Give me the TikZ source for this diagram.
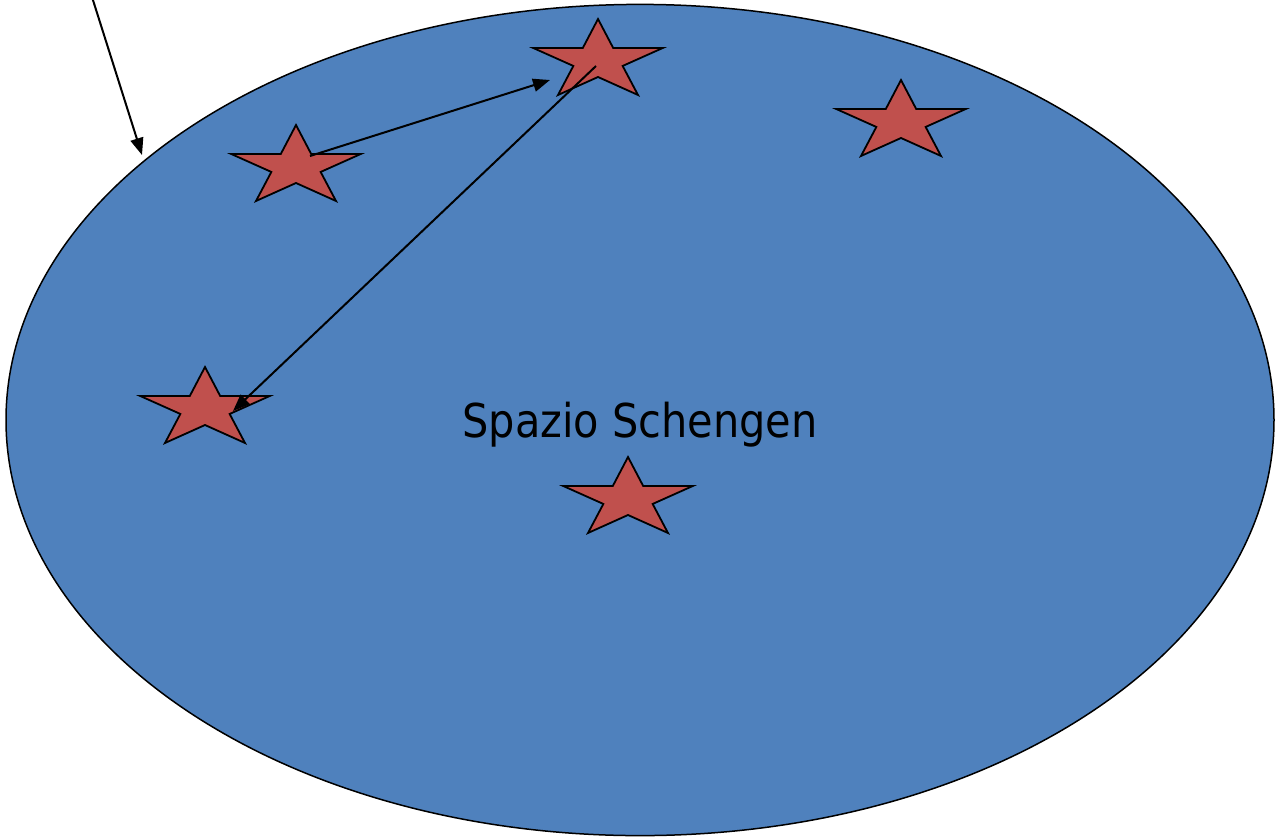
\documentclass[tikz,border=0pt]{standalone}
\usepackage{fontspec}
\newfontfamily\labelfont{DejaVu Sans}
\usetikzlibrary{arrows.meta,calc}
\definecolor{areablue}{HTML}{4F81BD}
\definecolor{memberred}{HTML}{C0504D}
\tikzset{
  area/.style={draw=black, line width=1.5pt, fill=areablue},
  memberstar/.style={draw=black, line width=1.8pt, fill=memberred, line join=miter},
  move/.style={draw=black, line width=2pt, -{Triangle[length=17pt,width=13pt]}},
  arealabel/.style={font=\labelfont\fontsize{46.6}{50}\selectfont, text=black, anchor=base, xscale=0.89, inner sep=0pt}
}
% five-pointed star centred on a named coordinate
\newcommand\memberstarat[1]{%
  \begin{scope}[shift={(#1)}, xscale=1.62, yscale=-1]
    \path[memberstar] (90:42) -- (126:16) -- (162:42) -- (198:16) -- (234:42)
      -- (270:16) -- (306:42) -- (342:16) -- (18:42) -- (54:16) -- cycle;
  \end{scope}}
\begin{document}
\begin{tikzpicture}[x=1pt, y=-1pt]
  \useasboundingbox (0,0) rectangle (1278,839);
  \fill[white] (0,0) rectangle (1278,839);

  % the area
  \path[area] (640,420) ellipse [x radius=634, y radius=415.6];
  \node[arealabel] (label) at (640,437) {Spazio Schengen};

  % member states
  \coordinate (top)   at (598,61);
  \coordinate (east)  at (901,122);
  \coordinate (nw)    at (296,167);
  \coordinate (west)  at (205,409);
  \coordinate (south) at (628,499);
  \foreach \s in {top,east,nw,west,south} {\memberstarat{\s}}

  % movements
  \coordinate (outside) at (92,-3);
  \coordinate (border)  at (142,155);
  \coordinate (nwout)   at ($(nw)+(14,-11)$);
  \coordinate (topin)   at ($(top)+(-48,19)$);
  \coordinate (topout)  at ($(top)+(-2,5)$);
  \coordinate (westin)  at ($(west)+(28,2)$);

  \draw[move] (outside) -- (border);
  \draw[move] (nwout) -- (topin);
  \draw[move] (topout) -- (westin);
\end{tikzpicture}
\end{document}
